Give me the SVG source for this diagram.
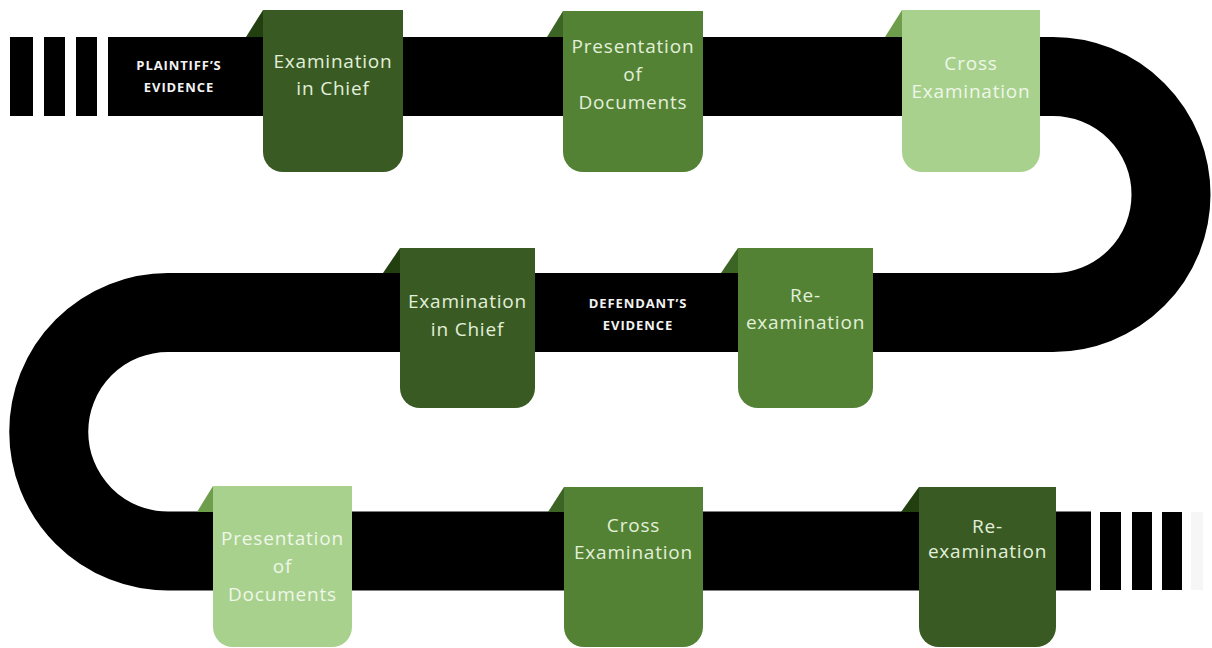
<svg xmlns="http://www.w3.org/2000/svg" width="1212" height="648" viewBox="0 0 1212 648">
<style>
.band{fill:none;stroke:#000;stroke-width:79}
.stripe{fill:#000}
.dark{fill:#3a5a24}
.mid{fill:#548235}
.light{fill:#a9d18e}
.tdark{fill:#22400f}
.tmid{fill:#3c6424}
.tlight{fill:#6e9e4c}
.lbl{font-family:"Open Sans","Liberation Sans",sans-serif;font-size:19px;fill:#e2f0d9;text-anchor:middle;letter-spacing:0.8px}
.lbl.onlight{fill:#eef7e8}
.head{font-family:"Open Sans","Liberation Sans",sans-serif;font-size:13px;font-weight:bold;fill:#f2f2f2;text-anchor:middle;letter-spacing:0.9px}
</style>
<rect width="1212" height="648" fill="#fff"/>
<g id="connectors">
<path class="band" d="M 108 76.5 H 1053 A 118 118 0 0 1 1053 312.5 H 168 A 119.25 119.25 0 0 0 168 551 H 1091"/>
<rect class="stripe" x="10" y="37" width="23" height="79"/>
<rect class="stripe" x="44" y="37" width="21" height="79"/>
<rect class="stripe" x="76" y="37" width="21" height="79"/>
<rect class="stripe" x="1100" y="512" width="21" height="78"/>
<rect class="stripe" x="1132" y="512" width="20" height="78"/>
<rect class="stripe" x="1162" y="512" width="20" height="78"/>
<rect x="1191" y="512" width="12" height="78" fill="#f6f6f6"/>
</g>
<g id="plaintiff-label">
<text class="head" x="179" y="70">PLAINTIFF’S</text>
<text class="head" x="179" y="92">EVIDENCE</text>
</g>
<g id="defendant-label">
<text class="head" x="638" y="308">DEFENDANT’S</text>
<text class="head" x="638" y="330">EVIDENCE</text>
</g>
<g id="p-exam-chief">
<polygon class="tdark" points="263,10 246,37 263,37"/>
<path class="dark" d="M263 10 H403 V152 A20 20 0 0 1 383 172 H283 A20 20 0 0 1 263 152 Z"/>
<text class="lbl" x="333" y="68">Examination</text>
<text class="lbl" x="333" y="95">in Chief</text>
</g>
<g id="p-presentation">
<polygon class="tmid" points="563,11 547,37 563,37"/>
<path class="mid" d="M563 11 H703 V152 A20 20 0 0 1 683 172 H583 A20 20 0 0 1 563 152 Z"/>
<text class="lbl" x="633" y="53">Presentation</text>
<text class="lbl" x="633" y="81">of</text>
<text class="lbl" x="633" y="109">Documents</text>
</g>
<g id="p-cross">
<polygon class="tlight" points="902,10 885,37 902,37"/>
<path class="light" d="M902 10 H1040 V152 A20 20 0 0 1 1020 172 H922 A20 20 0 0 1 902 152 Z"/>
<text class="lbl onlight" x="971" y="70">Cross</text>
<text class="lbl onlight" x="971" y="98">Examination</text>
</g>
<g id="d-exam-chief">
<polygon class="tdark" points="400,248 383,273 400,273"/>
<path class="dark" d="M400 248 H535 V388 A20 20 0 0 1 515 408 H420 A20 20 0 0 1 400 388 Z"/>
<text class="lbl" x="467.5" y="308">Examination</text>
<text class="lbl" x="467.5" y="336">in Chief</text>
</g>
<g id="d-reexam-mid">
<polygon class="tmid" points="738,248 721,273 738,273"/>
<path class="mid" d="M738 248 H873 V388 A20 20 0 0 1 853 408 H758 A20 20 0 0 1 738 388 Z"/>
<text class="lbl" x="805.5" y="302">Re-</text>
<text class="lbl" x="805.5" y="329">examination</text>
</g>
<g id="d-presentation">
<polygon class="tlight" points="213,486 197,512 213,512"/>
<path class="light" d="M213 486 H352 V627 A20 20 0 0 1 332 647 H233 A20 20 0 0 1 213 627 Z"/>
<text class="lbl onlight" x="282.5" y="545">Presentation</text>
<text class="lbl onlight" x="282.5" y="573">of</text>
<text class="lbl onlight" x="282.5" y="601">Documents</text>
</g>
<g id="d-cross">
<polygon class="tmid" points="564,487 548,512 564,512"/>
<path class="mid" d="M564 487 H703 V627 A20 20 0 0 1 683 647 H584 A20 20 0 0 1 564 627 Z"/>
<text class="lbl" x="633.5" y="532">Cross</text>
<text class="lbl" x="633.5" y="559">Examination</text>
</g>
<g id="d-reexam">
<polygon class="tdark" points="919,487 901,512 919,512"/>
<path class="dark" d="M919 487 H1056 V627 A20 20 0 0 1 1036 647 H939 A20 20 0 0 1 919 627 Z"/>
<text class="lbl" x="987.5" y="533">Re-</text>
<text class="lbl" x="987.5" y="558">examination</text>
</g>
</svg>
